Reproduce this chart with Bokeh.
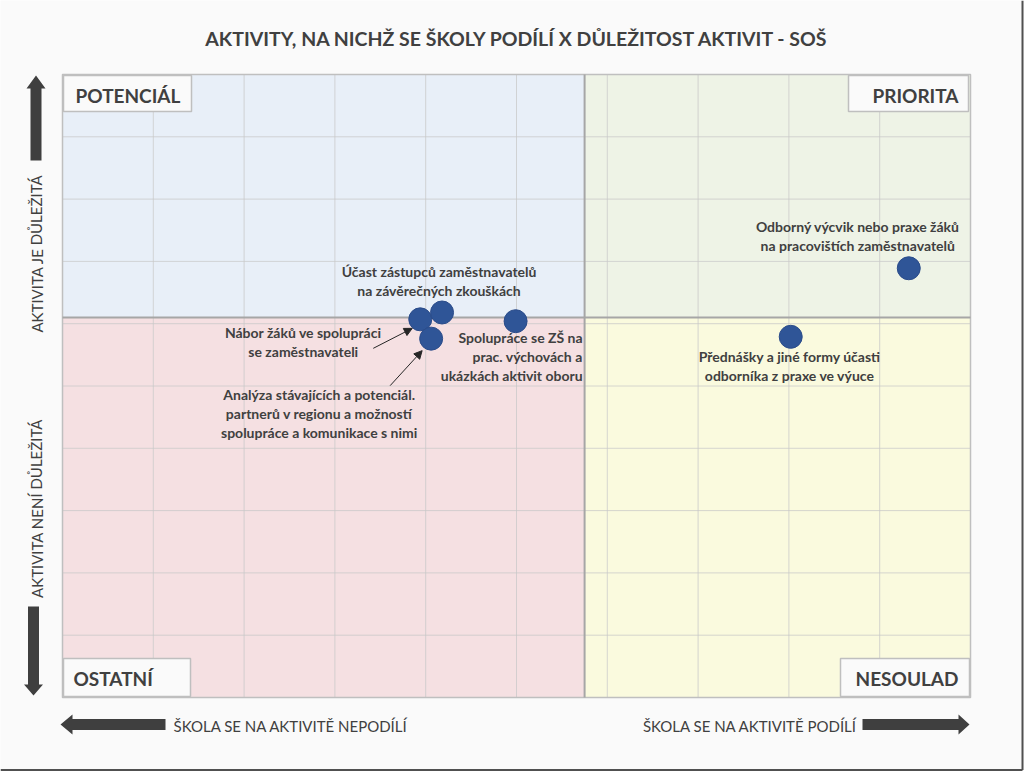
import math
from bokeh.plotting import figure
from bokeh.models import Range1d, Arrow, NormalHead, ColumnDataSource
from bokeh.core.properties import value
from bokeh.embed import file_html
from bokeh.resources import INLINE

# ---------------- data ----------------
title = "AKTIVITY, NA NICHŽ SE ŠKOLY PODÍLÍ X DŮLEŽITOST AKTIVIT - SOŠ"
activities = [
    "Nábor žáků ve spolupráci\nse zaměstnavateli",
    "Účast zástupců zaměstnavatelů\nna závěrečných zkouškách",
    "Analýza stávajících a potenciál.\npartnerů v regionu a možností\nspolupráce a komunikace s nimi",
    "Spolupráce se ZŠ na\nprac. výchovách a\nukázkách aktivit oboru",
    "Přednášky a jiné formy účasti\nodborníka z praxe ve výuce",
    "Odborný výcvik nebo praxe žáků\nna pracovištích zaměstnavatelů",
]
school_share = [3.94, 4.18, 4.06, 4.99, 8.02, 9.32]   # x
importance = [6.07, 6.18, 5.76, 6.04, 5.79, 6.89]     # y
x_min, x_max, x_mid = 0, 10, 5.75
y_min, y_max, y_mid = 0, 10, 6.1
quadrant_names = ["POTENCIÁL", "PRIORITA", "OSTATNÍ", "NESOULAD"]
axis_texts = ["AKTIVITA JE DŮLEŽITÁ", "AKTIVITA NENÍ DŮLEŽITÁ",
              "ŠKOLA SE NA AKTIVITĚ NEPODÍLÍ", "ŠKOLA SE NA AKTIVITĚ PODÍLÍ"]

# ---------------- layout helpers ----------------
W, H = 1024, 771
L, R, T, B = 62, 970, 74, 697          # plot area in pixels
SX = (R - L) / (x_max - x_min)
SY = (B - T) / (y_max - y_min)

def X(px):
    return x_min + (px - L) / SX

def Y(py):
    return y_min + (B - py) / SY

FONT = value("Lato")
DARK = "#404040"

p = figure(width=W, height=H, toolbar_location=None, output_backend="svg",
           x_range=Range1d(X(0), X(W)), y_range=Range1d(Y(H), Y(0)),
           x_axis_location=None, y_axis_location=None, min_border=0)
p.outline_line_color = None
p.background_fill_color = "#fafafa"
p.border_fill_color = "#fafafa"
p.xgrid.visible = False
p.ygrid.visible = False

# quadrant backgrounds
p.quad(left=[x_min, x_mid, x_min, x_mid], right=[x_mid, x_max, x_mid, x_max],
       bottom=[y_mid, y_mid, y_min, y_min], top=[y_max, y_max, y_mid, y_mid],
       fill_color=["#e8eff8", "#eef3e6", "#f5e0e2", "#fafade"],
       line_color=None)

# grid lines (inside the plot area only)
xt = list(range(x_min + 1, x_max))
yt = list(range(y_min + 1, y_max))
p.segment(x0=xt, y0=[y_min] * len(xt), x1=xt, y1=[y_max] * len(xt),
          line_color="#c8c8c8", line_alpha=0.75, line_width=1)
p.segment(x0=[x_min] * len(yt), y0=yt, x1=[x_max] * len(yt), y1=yt,
          line_color="#c8c8c8", line_alpha=0.75, line_width=1)

# frame + split lines
p.quad(left=[x_min], right=[x_max], bottom=[y_min], top=[y_max],
       fill_color=None, line_color="#bfbfbf", line_width=1.5)
p.segment(x0=[x_mid, x_min], y0=[y_min, y_mid], x1=[x_mid, x_max], y1=[y_max, y_mid],
          line_color="#a6a6a6", line_width=2)

# quadrant label boxes
box_l = [63, 848, 63, 840]
box_r = [191, 968, 190, 969]
box_t = [75, 75, 658, 658]
box_b = [111, 111, 696, 696]
p.quad(left=[X(v) for v in box_l], right=[X(v) for v in box_r],
       top=[Y(v) for v in box_t], bottom=[Y(v) for v in box_b],
       fill_color="#fafafa", line_color="#bfbfbf", line_width=1.5)
p.text(x=[X(75), X(958), X(73), X(958)], y=[Y(95), Y(95), Y(678), Y(678)],
       text=quadrant_names, text_align=["left", "right", "left", "right"],
       text_baseline="middle", text_font=FONT, text_font_style="bold",
       text_font_size="19px", text_color=DARK)

# title
p.text(x=[X(517)], y=[Y(38)], text=[title], text_align="center", text_baseline="middle",
       text_font=FONT, text_font_style="bold", text_font_size="19.5px", text_color=DARK)

# axis texts
p.text(x=[X(36), X(36)], y=[Y(253), Y(508)], text=axis_texts[:2], angle=1.5708,
       text_align="center", text_baseline="middle", text_font=FONT,
       text_font_size="15px", text_color=DARK)
p.text(x=[X(173), X(857)], y=[Y(725), Y(725)], text=axis_texts[2:],
       text_align=["left", "right"], text_baseline="middle", text_font=FONT,
       text_font_size="15px", text_color=DARK)

# big arrows (polygons in pixel space)
def arrow_poly(x0, y0, x1, y1, sw, hw, hl):
    dx, dy = x1 - x0, y1 - y0
    n = math.hypot(dx, dy)
    ux, uy = dx / n, dy / n
    nx, ny = -uy, ux
    bx, by = x1 - ux * hl, y1 - uy * hl
    pts = [(x0 + nx * sw, y0 + ny * sw), (bx + nx * sw, by + ny * sw),
           (bx + nx * hw, by + ny * hw), (x1, y1),
           (bx - nx * hw, by - ny * hw), (bx - nx * sw, by - ny * sw),
           (x0 - nx * sw, y0 - ny * sw)]
    return [X(a) for a, b in pts], [Y(b) for a, b in pts]

arrows = [arrow_poly(35.5, 160, 35.5, 75, 5.5, 9.5, 13),
          arrow_poly(33, 606, 33, 695, 5.5, 9.5, 11),
          arrow_poly(165, 724, 60, 724, 5.5, 10, 12),
          arrow_poly(862, 724, 969, 724, 5.5, 10, 11)]
p.patches(xs=[a[0] for a in arrows], ys=[a[1] for a in arrows],
          fill_color="#3f3f3f", line_color=None)

# points
src = ColumnDataSource(dict(x=school_share, y=importance, label=activities))
p.scatter("x", "y", source=src, size=23, fill_color="#2f5597", line_color="#2b4c8a",
          line_width=1)

# data labels (offsets in screen pixels)
lab_dx = [-117, -3, -112, 67, -1, -51]
lab_dy = [23, -31, 75, 35, 29, -32]
lab_align = ["center", "center", "center", "right", "center", "center"]
p.text(x=school_share, y=importance, text=activities, x_offset=lab_dx, y_offset=lab_dy,
       text_align=lab_align, text_baseline="middle", text_font=FONT,
       text_font_style="bold", text_font_size="14px", text_line_height=1.12,
       text_color=DARK)

# leader arrows
for i, (sx, sy, ex, ey) in [(0, (-47, 29, -8, 9)), (2, (-41, 47, -9, 12))]:
    px0 = L + (school_share[i] - x_min) * SX
    py0 = B - (importance[i] - y_min) * SY
    p.add_layout(Arrow(x_start=X(px0 + sx), y_start=Y(py0 + sy),
                       x_end=X(px0 + ex), y_end=Y(py0 + ey),
                       line_color="#262626", line_width=1,
                       end=NormalHead(size=8, fill_color="#262626", line_color="#262626")))

# page frame shadow (right & bottom)
p.segment(x0=[X(1022), X(0)], y0=[Y(0), Y(769.5)], x1=[X(1022), X(1022)], y1=[Y(769.5), Y(769.5)],
          line_color="#505050", line_width=2)

open("out.html", "w").write(file_html(p, INLINE))
